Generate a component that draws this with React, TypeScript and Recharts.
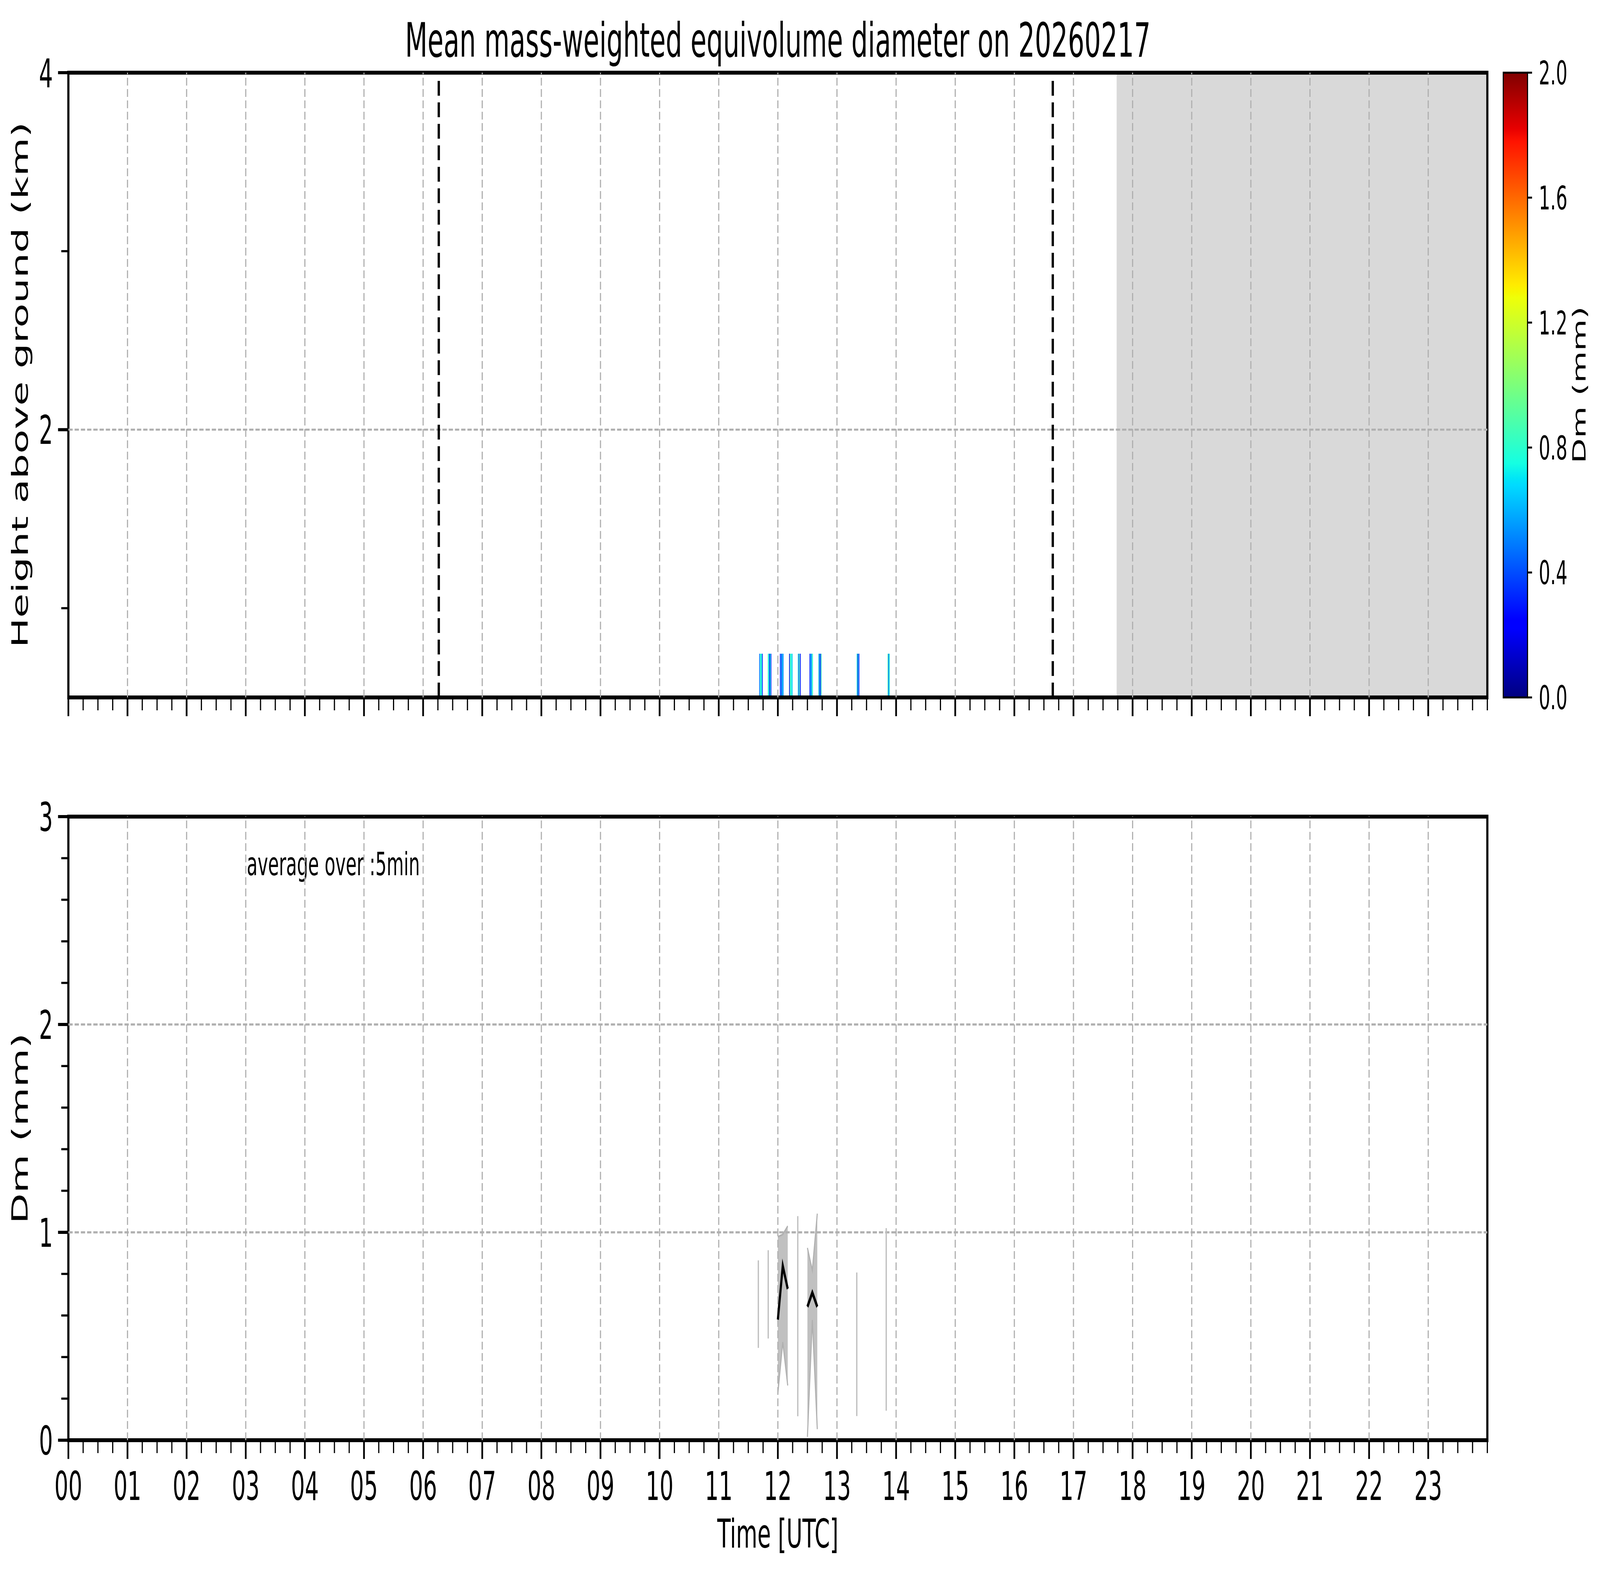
import React from 'react';
import {
  ComposedChart,
  XAxis,
  YAxis,
  Area,
  Line,
  ReferenceArea,
  ReferenceLine,
} from 'recharts';

const FONT = '"DejaVu Sans", sans-serif';
const PAGE_W = 7442;
const PAGE_H = 4031;

// time axis (hours UTC)
const hourLabels = [
  '00', '01', '02', '03', '04', '05', '06', '07', '08', '09', '10', '11',
  '12', '13', '14', '15', '16', '17', '18', '19', '20', '21', '22', '23',
];
const gridHours = [1, 2, 3, 4, 5, 6, 7, 8, 9, 10, 11, 12, 13, 14, 15, 16, 17, 18, 19, 20, 21, 22, 23];
const quarterTicks: number[] = [];
for (let i = 0; i <= 96; i++) quarterTicks.push(i / 4);

// top panel: height axis (km)
const heightTicks = [1, 2, 3, 4];
const heightLabels = [2, 4];
const heightGrid = [2];

// bottom panel: Dm axis (mm)
const dmTicks = [0, 0.2, 0.4, 0.6, 0.8, 1, 1.2, 1.4, 1.6, 1.8, 2, 2.2, 2.4, 2.6, 2.8, 3];
const dmLabels = [0, 1, 2, 3];
const dmGrid = [1, 2];

// colorbar
const cbarTicks = [0, 0.4, 0.8, 1.2, 1.6, 2.0];
const cbarLabels = ['0.0', '0.4', '0.8', '1.2', '1.6', '2.0'];

// sunrise / sunset and start of missing data
const sunTimes = [6.265, 16.65];
const noDataStart = 17.73;

// time-height Dm strips
const gateBottom = 0.5;
const gateTop = 0.745;
const stripStart = [11.685, 11.83, 12.035, 12.19, 12.337, 12.535, 12.685, 13.333, 13.856];
const stripEnd = [11.744, 11.89, 12.096, 12.25, 12.387, 12.594, 12.74, 13.378, 13.893];
const stripDm = [
  [0.45, 0.7, 0.85, 0.7, 0.3],
  [0.85, 0.7, 0.2, 0.75, 0.3],
  [0.25, 0.6, 0.3, 0.7, 0.5],
  [0.2, 0.9, 0.7, 0.8, 0.65],
  [0.75, 0.3, 0.9, 0.55, 0.2],
  [0.3, 0.65, 0.4, 0.7, 0.85],
  [0.8, 0.3, 0.6, 0.2, 0.85],
  [0.75, 0.15, 0.7, 0.2],
  [0.85, 0.45, 0.8],
];

// 5 min averages: mean line and spread
const segTimes = [[12.0, 12.083, 12.167], [12.5, 12.583, 12.667]];
const segMean = [[0.58, 0.839, 0.728], [0.642, 0.71, 0.642]];
const segLow = [[0.224, 0.472, 0.263], [0.016, 0.578, 0.053]];
const segHigh = [[0.978, 0.99, 1.03], [0.925, 0.817, 1.09]];

const isoTimes = [11.67, 11.837, 12.337, 13.335, 13.833];
const isoLow = [0.444, 0.489, 0.115, 0.116, 0.142];
const isoHigh = [0.865, 0.914, 1.078, 0.807, 1.02];

const avgRows: { t: number; mean: number | null; range: number[] | null }[] = [];
segTimes.forEach((ts, s) => {
  if (s > 0) {
    const prev = segTimes[s - 1];
    avgRows.push({ t: (prev[prev.length - 1] + ts[0]) / 2, mean: null, range: null });
  }
  ts.forEach((t, i) => {
    avgRows.push({ t, mean: segMean[s][i], range: [segLow[s][i], segHigh[s][i]] });
  });
});

const stripRows = stripStart.map((t, i) => ({ t, end: stripEnd[i] }));

function jet(t: number) {
  const v = Math.max(0, Math.min(1, t));
  let r = 0;
  if (v >= 0.35 && v < 0.66) r = (v - 0.35) / 0.31;
  else if (v >= 0.66 && v < 0.89) r = 1;
  else if (v >= 0.89) r = 1 - (0.5 * (v - 0.89)) / 0.11;
  let g = 0;
  if (v >= 0.125 && v < 0.375) g = (v - 0.125) / 0.25;
  else if (v >= 0.375 && v < 0.64) g = 1;
  else if (v >= 0.64 && v < 0.91) g = 1 - (v - 0.64) / 0.27;
  let b = 0;
  if (v < 0.11) b = 0.5 + (0.5 * v) / 0.11;
  else if (v < 0.34) b = 1;
  else if (v < 0.65) b = 1 - (v - 0.34) / 0.31;
  const h = (x: number) => Math.round(x * 255).toString(16).padStart(2, '0');
  return `#${h(r)}${h(g)}${h(b)}`;
}
const jetStops = [0, 0.11, 0.125, 0.34, 0.35, 0.375, 0.64, 0.65, 0.66, 0.89, 0.91, 1];

const GRID = { stroke: '#b0b0b0', strokeWidth: 5.3, strokeDasharray: '20 9' };

function XTick(props: any) {
  const { x, y, payload, showLabel } = props;
  const v = payload.value;
  const major = Math.abs(v - Math.round(v)) < 1e-6 && v < 24;
  return (
    <g>
      <line x1={x} x2={x} y1={y} y2={y + (major ? 48 : 33)} stroke="#000" strokeWidth={major ? 8 : 5.5} />
      {showLabel && major && (
        <text x={x} y={y + 153} textAnchor="middle" fontSize={102} fontFamily={FONT} fill="#000">
          {hourLabels[Math.round(v)]}
        </text>
      )}
    </g>
  );
}

function YTick(props: any) {
  const { x, y, payload, labels } = props;
  const v = payload.value;
  const major = labels.some((l: number) => Math.abs(l - v) < 1e-6);
  return (
    <g>
      <line x1={x} x2={x - (major ? 48 : 33)} y1={y} y2={y} stroke="#000" strokeWidth={major ? 8 : 5.5} />
      {major && (
        <text x={x - 72} y={y} dy="0.36em" textAnchor="end" fontSize={102} fontFamily={FONT} fill="#000">
          {Math.round(v)}
        </text>
      )}
    </g>
  );
}

function CbarTick(props: any) {
  const { x, y, payload } = props;
  const i = cbarTicks.findIndex((c) => Math.abs(c - payload.value) < 1e-6);
  return (
    <g>
      <line x1={x} x2={x + 21} y1={y} y2={y} stroke="#000" strokeWidth={5} />
      <text x={x + 52} y={y} dy="0.36em" fontSize={84} fontFamily={FONT} fill="#000">
        {cbarLabels[i]}
      </text>
    </g>
  );
}

function TopPanel() {
  return (
    <ComposedChart width={6980} height={1900} data={stripRows} margin={{ top: 186, right: 62, left: 0, bottom: 0 }}>
      <XAxis
        type="number"
        dataKey="t"
        domain={[0, 24]}
        allowDataOverflow
        ticks={quarterTicks}
        interval={0}
        height={115}
        axisLine={false}
        tickLine={false}
        tickSize={0}
        tickMargin={0}
        tick={(p: any) => <XTick {...p} showLabel={false} />}
      />
      <YAxis
        type="number"
        domain={[0.5, 4]}
        allowDataOverflow
        ticks={heightTicks}
        interval={0}
        width={318}
        axisLine={false}
        tickLine={false}
        tickSize={0}
        tickMargin={0}
        tick={(p: any) => <YTick {...p} labels={heightLabels} />}
      />
      <ReferenceArea x1={noDataStart} x2={24} y1={0.5} y2={4} fill="#d9d9d9" fillOpacity={1} stroke="none" />
      {gridHours.map((h) => (
        <ReferenceLine key={`gx${h}`} x={h} {...GRID} />
      ))}
      {heightGrid.map((v) => (
        <ReferenceLine key={`gy${v}`} y={v} {...GRID} />
      ))}
      {stripDm.map((cols, s) =>
        cols.map((dm, c) => {
          const w = (stripEnd[s] - stripStart[s]) / cols.length;
          return (
            <ReferenceArea
              key={`s${s}c${c}`}
              x1={stripStart[s] + c * w}
              x2={stripStart[s] + (c + 1) * w}
              y1={gateBottom}
              y2={gateTop}
              fill={jet(dm / 2)}
              fillOpacity={1}
              stroke="none"
            />
          );
        })
      )}
      {sunTimes.map((t) => (
        <ReferenceLine key={`sun${t}`} x={t} stroke="#000" strokeWidth={10.7} strokeDasharray="38 17" />
      ))}
      <ReferenceArea x1={0} x2={24} y1={0.5} y2={4} fill="none" stroke="#000" strokeWidth={10} />
      <text x={3618} y={145} textAnchor="middle" fontSize={121} fontFamily={FONT} fill="#000">
        Mean mass-weighted equivolume diameter on 20260217
      </text>
      <text transform="translate(129, 985) rotate(-90)" textAnchor="middle" fontSize={102} fontFamily={FONT} fill="#000">
        Height above ground (km)
      </text>
    </ComposedChart>
  );
}

function BottomPanel() {
  return (
    <ComposedChart width={6980} height={2081} data={avgRows} margin={{ top: 140, right: 62, left: 0, bottom: 0 }}>
      <XAxis
        type="number"
        dataKey="t"
        domain={[0, 24]}
        allowDataOverflow
        ticks={quarterTicks}
        interval={0}
        height={345}
        axisLine={false}
        tickLine={false}
        tickSize={0}
        tickMargin={0}
        tick={(p: any) => <XTick {...p} showLabel />}
      />
      <YAxis
        type="number"
        domain={[0, 3]}
        allowDataOverflow
        ticks={dmTicks}
        interval={0}
        width={318}
        axisLine={false}
        tickLine={false}
        tickSize={0}
        tickMargin={0}
        tick={(p: any) => <YTick {...p} labels={dmLabels} />}
      />
      {gridHours.map((h) => (
        <ReferenceLine key={`gx${h}`} x={h} {...GRID} />
      ))}
      {dmGrid.map((v) => (
        <ReferenceLine key={`gy${v}`} y={v} {...GRID} />
      ))}
      {isoTimes.map((t, i) => (
        <ReferenceLine
          key={`iso${i}`}
          segment={[{ x: t, y: isoLow[i] }, { x: t, y: isoHigh[i] }]}
          stroke="#c0c0c0"
          strokeWidth={6}
        />
      ))}
      <Area
        type="linear"
        dataKey="range"
        fill="#c0c0c0"
        fillOpacity={1}
        stroke="#b0b0b0"
        strokeWidth={5}
        connectNulls={false}
        isAnimationActive={false}
        dot={false}
        activeDot={false}
      />
      <Line
        type="linear"
        dataKey="mean"
        stroke="#000"
        strokeWidth={10}
        dot={false}
        activeDot={false}
        connectNulls={false}
        isAnimationActive={false}
      />
      <ReferenceArea x1={0} x2={24} y1={0} y2={3} fill="none" stroke="#000" strokeWidth={10} />
      <text x={1148} y={290} fontSize={82} fontFamily={FONT} fill="#000">
        average over :5min
      </text>
      <text transform="translate(129, 938) rotate(-90)" textAnchor="middle" fontSize={102} fontFamily={FONT} fill="#000">
        Dm (mm)
      </text>
      <text x={3618} y={2011} textAnchor="middle" fontSize={102} fontFamily={FONT} fill="#000">
        Time [UTC]
      </text>
    </ComposedChart>
  );
}

function Colorbar() {
  return (
    <ComposedChart width={542} height={1900} data={[{ x: 0 }, { x: 1 }]} margin={{ top: 186, right: 0, left: 92, bottom: 115 }}>
      <defs>
        <linearGradient id="jetGrad" x1="0" y1="1" x2="0" y2="0">
          {jetStops.map((o) => (
            <stop key={o} offset={o} stopColor={jet(o)} />
          ))}
        </linearGradient>
      </defs>
      <XAxis type="number" dataKey="x" domain={[0, 1]} hide />
      <YAxis
        type="number"
        orientation="right"
        domain={[0, 2]}
        allowDataOverflow
        ticks={cbarTicks}
        interval={0}
        width={337}
        axisLine={false}
        tickLine={false}
        tickSize={0}
        tickMargin={0}
        tick={(p: any) => <CbarTick {...p} />}
      />
      <ReferenceArea x1={0} x2={1} y1={0} y2={2} fill="url(#jetGrad)" fillOpacity={1} stroke="#000" strokeWidth={5} />
      <text transform="translate(474, 985) rotate(-90)" textAnchor="middle" fontSize={84} fontFamily={FONT} fill="#000">
        Dm (mm)
      </text>
    </ComposedChart>
  );
}

export default function App() {
  // the figure is laid out at 7442x4031; fill the viewport the page really gets
  const vw = typeof window !== 'undefined' ? window.innerWidth : PAGE_W;
  const vh = typeof window !== 'undefined' ? window.innerHeight : PAGE_H;
  const sx = Math.min(1, vw / PAGE_W);
  const sy = Math.min(1, vh / PAGE_H);
  return (
    <div style={{ position: 'absolute', left: 0, top: 0, width: PAGE_W * sx, height: PAGE_H * sy, overflow: 'hidden', background: '#fff' }}>
      <div style={{ position: 'relative', width: PAGE_W, height: PAGE_H, transform: `scale(${sx}, ${sy})`, transformOrigin: '0 0' }}>
        <div style={{ position: 'absolute', left: 0, top: 0 }}>
          <TopPanel />
        </div>
        <div style={{ position: 'absolute', left: 0, top: 1950 }}>
          <BottomPanel />
        </div>
        <div style={{ position: 'absolute', left: 6900, top: 0 }}>
          <Colorbar />
        </div>
      </div>
    </div>
  );
}
